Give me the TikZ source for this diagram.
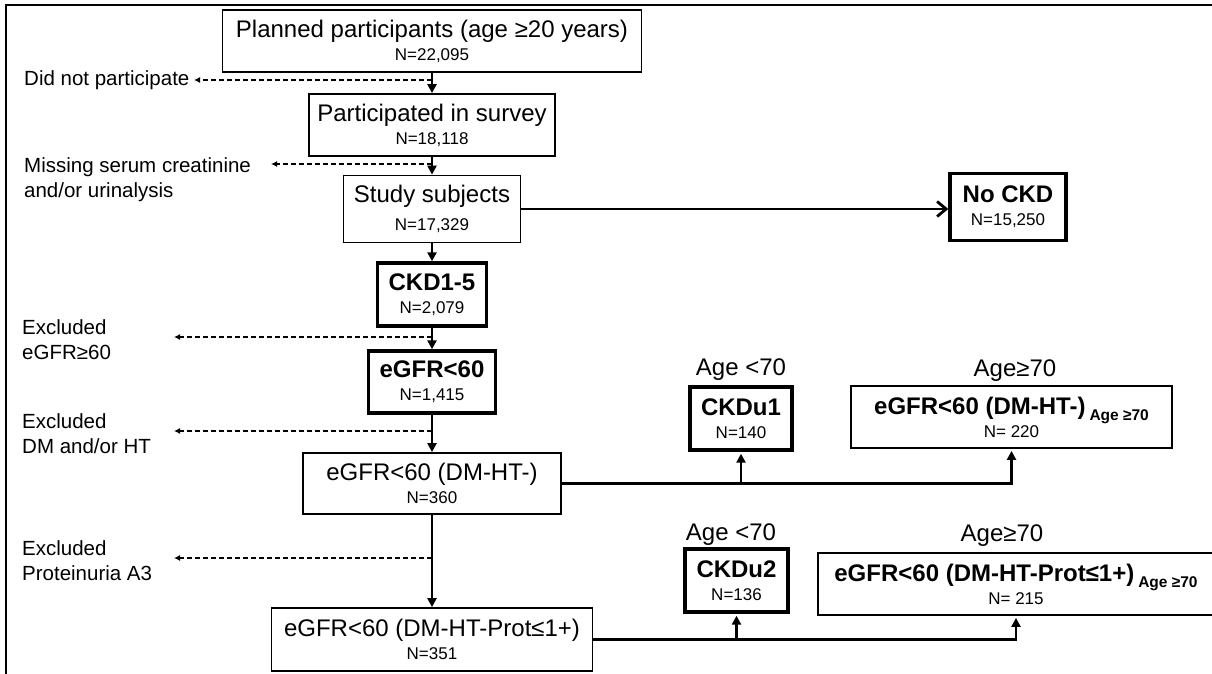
\documentclass[tikz,border=0pt]{standalone}
\usepackage{fontspec}
\setmainfont{Liberation Sans}
\usetikzlibrary{arrows.meta}
\newcommand{\hd}{\fontsize{24}{23}\selectfont}
\newcommand{\nsz}{\fontsize{17}{20}\selectfont}
\newcommand{\lsz}{\fontsize{20.5}{25}\selectfont}
\newcommand{\agesub}[1]{\,{\fontsize{15.5}{16}\selectfont\raisebox{-6pt}{#1}}}
\begin{document}
\begin{tikzpicture}[x=1pt,y=-1pt,
    arr/.style={line width=2.8pt,-{Triangle[length=9pt,width=9pt]}},
    conn/.style={line width=2.8pt},
    excl/.style={line width=1.3pt,dash pattern=on 5pt off 3pt,-{Latex[length=6pt,width=6pt]}},
    thick box/.style={line width=3.4pt,font=\hd\bfseries}]

        \useasboundingbox (0,0) rectangle (1212,674);
        \clip (0,0) rectangle (1212,674);
        \draw[line width=2.5pt] (6,674) -- (6,5) -- (1212,5);

        \begin{scope}[every node/.style={draw,line width=1.8pt,align=center,font=\hd,inner sep=0pt,minimum height=62pt}]
          \node (1)  at (432,41)    [minimum width=419pt] {Planned participants (age ≥20 years)\\{\nsz N=22,095}};
          \node (2)  at (432,125)   [minimum width=246pt] {Participated in survey\\{\nsz N=18,118}};
          \node (3)  at (432,209)   [minimum width=177pt,minimum height=67pt] {Study subjects\\[5pt]{\nsz N=17,329}};
          \node (4)  at (1008,207)  [minimum width=116pt,minimum height=67pt,thick box] {No CKD\\{\nsz\mdseries N=15,250}};
          \node (5)  at (432,294.5) [minimum width=109pt,minimum height=63pt,thick box] {CKD1-5\\{\nsz\mdseries N=2,079}};
          \node (6)  at (432,382)   [minimum width=127pt,thick box] {eGFR<60\\{\nsz\mdseries N=1,415}};
          \node (7)  at (432,483.5) [minimum width=258pt,minimum height=61pt] {eGFR<60 (DM-HT-)\\{\nsz N=360}};
          \node (8)  at (432,639.5) [minimum width=321pt,minimum height=63pt] {eGFR<60 (DM-HT-Prot≤1+)\\{\nsz N=351}};
          \node (9)  at (741,418.5) [minimum width=102pt,minimum height=63pt,thick box] {CKDu1\\{\nsz\mdseries N=140}};
          \node (10) at (1011.5,417)[minimum width=321pt,font=\hd\bfseries] {eGFR<60 (DM-HT-)\agesub{Age ≥70}\\{\nsz\mdseries N= 220}};
          \node (11) at (736.5,580.5)[minimum width=103pt,minimum height=63pt,thick box] {CKDu2\\{\nsz\mdseries N=136}};
          \node (12) at (1016,584)  [minimum width=396pt,font=\hd\bfseries] {eGFR<60 (DM-HT-Prot≤1+)\agesub{Age ≥70}\\{\nsz\mdseries N= 215}};
        \end{scope}

        \begin{scope}[every node/.style={font=\hd,inner sep=0pt}]
          \node (a1) at (741,370)  {Age <70};
          \node (a2) at (1015,371) {Age≥70};
          \node (a3) at (731,535)  {Age <70};
          \node (a4) at (1002,536) {Age≥70};
        \end{scope}

        \begin{scope}[every node/.style={font=\lsz,align=left,anchor=north west,inner sep=0pt}]
          \node (l1) at (24,80) [anchor=west] {Did not participate};
          \node (l2) at (24,157) {Missing serum creatinine\\and/or urinalysis};
          \node (l3) at (22,319) {Excluded\\eGFR≥60};
          \node (l4) at (22,413) {Excluded\\DM and/or HT};
          \node (l5) at (22,540) {Excluded\\Proteinuria A3};
        \end{scope}

        \coordinate (d1) at (432,80);  \coordinate (e1) at (194,80);
        \coordinate (d2) at (432,164); \coordinate (e2) at (271,164);
        \coordinate (d3) at (432,337); \coordinate (e3) at (174,337);
        \coordinate (d4) at (432,431); \coordinate (e4) at (174,431);
        \coordinate (d5) at (432,558); \coordinate (e5) at (174,558);

        \begin{scope}[every edge/.style={draw,arr}]
          \path (1) edge (2);
          \path (2) edge (3);
          \path (3) edge (5);
          \path (5) edge (6);
          \path (6) edge (7);
          \path (7) edge (8);
        \end{scope}

        \begin{scope}[every edge/.style={draw,excl}]
          \path (d1) edge (e1);
          \path (d2) edge (e2);
          \path (d3) edge (e3);
          \path (d4) edge (e4);
          \path (d5) edge (e5);
        \end{scope}

        \draw[conn,-{Straight Barb[length=9pt,width=15pt]}] (3.east) -- (3.east -| 4.west);
        \draw[arr,shorten >=2pt] (7.east) -- (7.east -| 10.south) -- (10.south);
        \draw[arr,shorten >=2pt] (7.east -| 9.south) -- (9.south);
        \draw[arr,shorten >=2pt] (8.east) -- (8.east -| 12.south) -- (12.south);
        \draw[arr,shorten >=2pt] (8.east -| 11.south) -- (11.south);

      \end{tikzpicture}
\end{document}
